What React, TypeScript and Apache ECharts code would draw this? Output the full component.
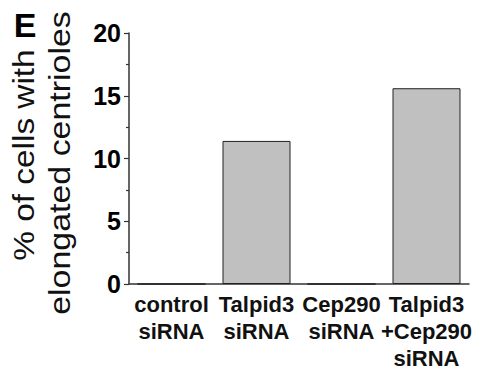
import React, { useEffect, useRef } from "react";
import * as echarts from "echarts";

const categories = ["control\nsiRNA", "Talpid3\nsiRNA", "Cep290\nsiRNA", "Talpid3\n+Cep290\nsiRNA"];
const values = [0, 11.4, 0, 15.6];
const yTicks = { min: 0, max: 20, interval: 5 };
const panelLetter = "E";
const yLabelLines = ["% of cells with", "elongated centrioles"];

export default function App() {
  const ref = useRef<HTMLDivElement>(null);
  useEffect(() => {
    if (!ref.current) return;
    const chart = echarts.init(ref.current, null, { renderer: "svg" });
    const font = "Liberation Sans";
    chart.setOption({
      animation: false,
      backgroundColor: "#ffffff",
      grid: { left: 129, top: 33, right: 18, bottom: 90, containLabel: false },
      xAxis: {
        type: "category",
        data: categories,
        axisLine: { show: true, lineStyle: { color: "#333", width: 1.5 } },
        axisTick: { show: false },
        axisLabel: {
          interval: 0,
          margin: 7,
          color: "#111",
          fontFamily: font,
          fontWeight: "bold",
          fontSize: 22,
          lineHeight: 27,
        },
      },
      yAxis: {
        type: "value",
        min: yTicks.min,
        max: yTicks.max,
        interval: yTicks.interval,
        splitLine: { show: false },
        axisLine: { show: true, lineStyle: { color: "#333", width: 1.5 } },
        axisTick: { show: true, length: 5, lineStyle: { color: "#333", width: 1.2 } },
        minorTick: { show: true, splitNumber: 2, length: 3, lineStyle: { color: "#333", width: 1.2 } },
        axisLabel: {
          margin: 8,
          color: "#000",
          fontFamily: font,
          fontWeight: "bold",
          fontSize: 25,
        },
      },
      series: [
        {
          type: "bar",
          data: values,
          barCategoryGap: "20%",
          itemStyle: { color: "#c0c0c0", borderColor: "#222", borderWidth: 1 },
        },
      ],
      graphic: [
        {
          type: "text",
          x: 25,
          y: 25,
          style: {
            text: panelLetter,
            fontFamily: font,
            fontWeight: "bold",
            fontSize: 34,
            fill: "#000",
            align: "center",
            verticalAlign: "middle",
          },
        },
        {
          type: "text",
          x: 24,
          y: 155,
          rotation: Math.PI / 2,
          scaleX: 1.15,
          style: {
            text: yLabelLines[0],
            fontFamily: font,
            fontSize: 29,
            fill: "#111",
            align: "center",
            verticalAlign: "middle",
          },
        },
        {
          type: "text",
          x: 60,
          y: 163,
          rotation: Math.PI / 2,
          scaleX: 1.17,
          style: {
            text: yLabelLines[1],
            fontFamily: font,
            fontSize: 29,
            fill: "#111",
            align: "center",
            verticalAlign: "middle",
          },
        },
      ],
    });
    return () => chart.dispose();
  }, []);
  return <div ref={ref} style={{ width: 487, height: 374, position: "absolute", left: 0, top: 0 }} />;
}
